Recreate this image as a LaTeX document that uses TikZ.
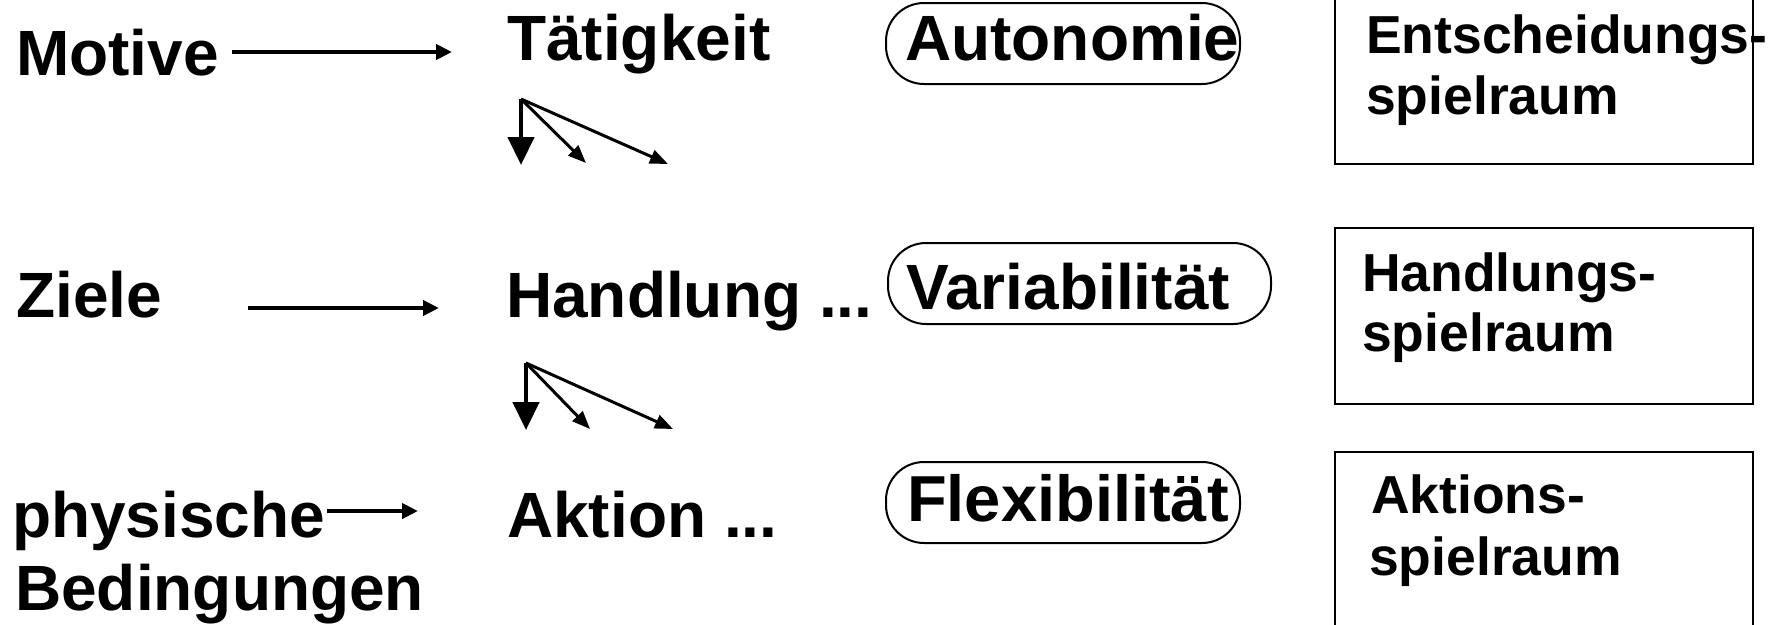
\documentclass[tikz,border=0pt]{standalone}
\usepackage{fontspec}
\setmainfont{Liberation Sans}
\usetikzlibrary{arrows.meta}
\begin{document}
\begin{tikzpicture}[x=1pt,y=-1pt,
  big/.style={font=\fontsize{64}{72}\selectfont\bfseries, inner sep=0pt, anchor=base west},
  bigger/.style={font=\fontsize{65}{72}\selectfont\bfseries, inner sep=0pt, anchor=base west},
  small/.style={font=\fontsize{53.5}{60}\selectfont\bfseries, inner sep=0pt, anchor=base west},
  pill/.style={draw, line width=2pt, rounded corners=38pt, minimum height=81pt, inner sep=0pt},
  frame/.style={draw, line width=2.5pt, minimum width=418pt, inner sep=0pt},
  flow/.style={line width=4.5pt, -{Triangle[length=16pt,width=15pt]}},
  fork/.style={line width=3pt, -{Triangle[length=18pt,width=14pt]}},
  forkmain/.style={line width=4.5pt, -{Triangle[length=28pt,width=26pt]}},
]
\useasboundingbox (0,0) rectangle (1783,624);
\clip (0,0) rectangle (1783,624);

% left column: sources
\node[big] (motive) at (16,75) {Motive};
\node[big] (ziele) at (16,317) {Ziele};
\node[big] (phys) at (12,537) {physische};
\node[big] (beding) at (15,610) {Bedingungen};

% middle column: levels of activity
\node[big] (taet) at (507,60) {Tätigkeit};
\node[big] (handl) at (506,317) {Handlung ...};
\node[big] (aktion) at (507,537) {Aktion ...};

% rounded labels
\node[pill, minimum width=354pt] (auto) at (1063,43.5) {};
\node[pill, minimum width=383pt] (vari) at (1079.5,283.5) {};
\node[pill, minimum width=354pt] (flex) at (1063,502.5) {};
\node[big] (autotxt) at (905,60) {Autonomie};
\node[big] (varitxt) at (906,309) {Variabilität};
\node[bigger] (flextxt) at (907,521) {Flexibilität};

% framed scopes
\node[frame, minimum height=184pt] (box1) at (1544,72) {};
\node[frame, minimum height=176pt] (box2) at (1544,316) {};
\node[frame, minimum height=200pt] (box3) at (1544,552) {};
\node[small] (b1a) at (1366,53) {Entscheidungs-};
\node[small] (b1b) at (1366,114) {spielraum};
\node[small] (b2a) at (1362,291) {Handlungs-};
\node[small] (b2b) at (1362,351) {spielraum};
\node[small] (b3a) at (1371,513) {Aktions-};
\node[small] (b3b) at (1369,575) {spielraum};

% horizontal arrows
\coordinate (m0) at (232,52);  \coordinate (m1) at (452,52);
\coordinate (z0) at (248,308); \coordinate (z1) at (439,308);
\coordinate (p0) at (327,511); \coordinate (p1) at (418,511);
\draw[flow] (m0) -- (m1);
\draw[flow] (z0) -- (z1);
\draw[flow] (p0) -- (p1);

% fan of arrows below Tätigkeit
\coordinate (t1) at (521,99);
\coordinate (t1a) at (521,165);
\coordinate (t1b) at (586,163);
\coordinate (t1c) at (668,164);
\draw[forkmain] (t1) -- (t1a);
\draw[fork] (t1) -- (t1b);
\draw[fork] (t1) -- (t1c);

% fan of arrows below Handlung
\coordinate (t2) at (526,363);
\coordinate (t2a) at (526,430);
\coordinate (t2b) at (590,429);
\coordinate (t2c) at (673,429);
\draw[forkmain] (t2) -- (t2a);
\draw[fork] (t2) -- (t2b);
\draw[fork] (t2) -- (t2c);
\end{tikzpicture}
\end{document}
